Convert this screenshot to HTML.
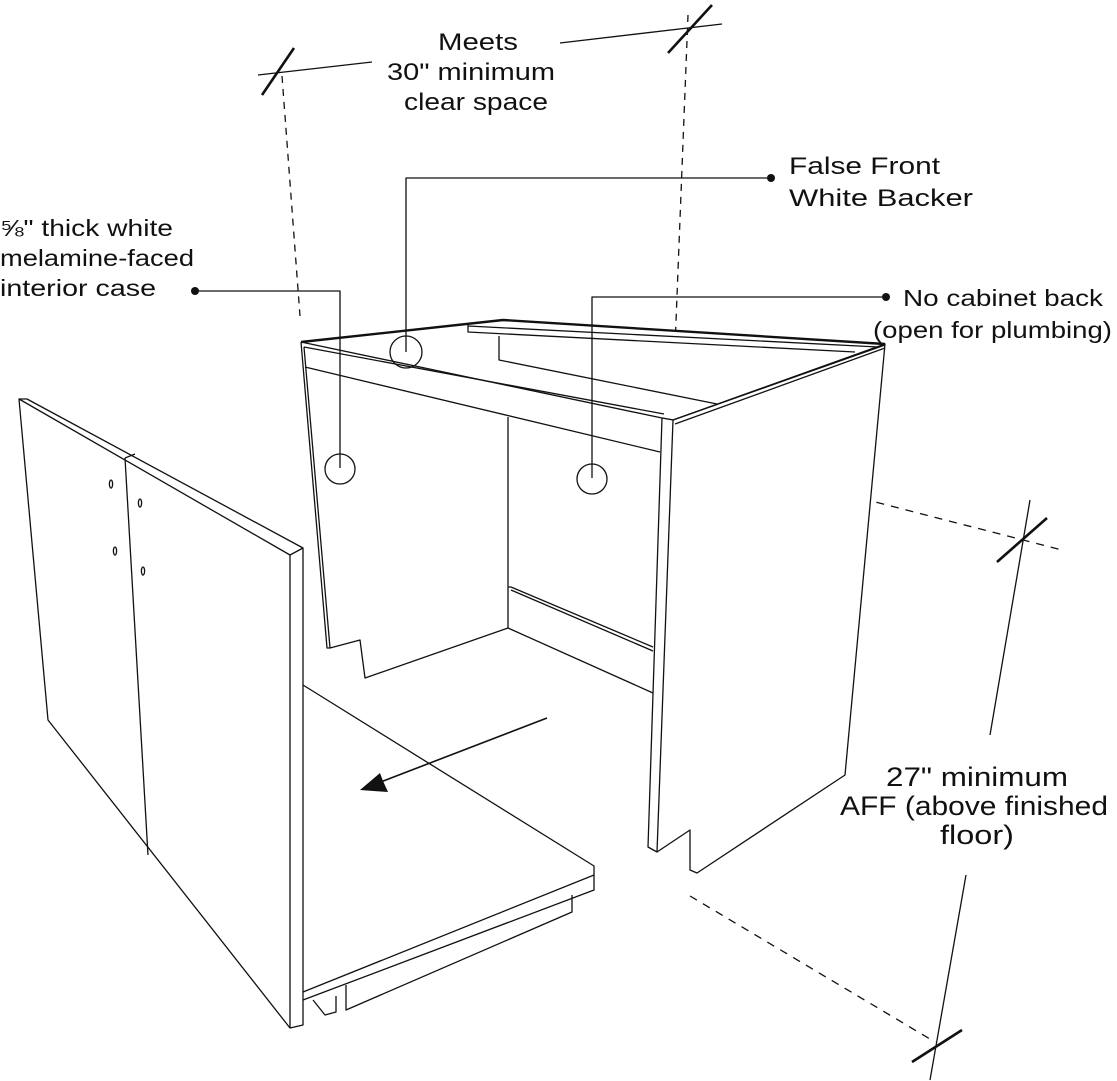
<!DOCTYPE html>
<html><head><meta charset="utf-8"><style>
html,body{margin:0;padding:0;background:#fff;}
svg{display:block;}
text{font-family:"Liberation Sans","DejaVu Sans",sans-serif;fill:#111;}
</style></head><body>
<svg width="1117" height="1081" viewBox="0 0 1117 1081" xmlns="http://www.w3.org/2000/svg">
<g fill="none" stroke="#111" stroke-width="1.3" stroke-linejoin="round">
<!-- dimension top -->
<line x1="258" y1="75" x2="372" y2="62"/>
<line x1="560" y1="43" x2="722" y2="24"/>
<line x1="262" y1="95" x2="294" y2="48" stroke-width="2.6"/>
<line x1="668" y1="53" x2="712" y2="5" stroke-width="2.6"/>
<line x1="282" y1="76" x2="300" y2="316" stroke-dasharray="7,6"/>
<line x1="688" y1="15" x2="673" y2="398" stroke-dasharray="7,6"/>
<!-- dimension right -->
<line x1="673" y1="450" x2="1062" y2="550" stroke-dasharray="8,7"/>
<line x1="690" y1="896" x2="935" y2="1042" stroke-dasharray="8,7"/>
<line x1="1030" y1="500" x2="990" y2="735"/>
<line x1="966" y1="875" x2="930" y2="1080"/>
<line x1="997" y1="562" x2="1047" y2="518" stroke-width="2.6"/>
<line x1="912" y1="1062" x2="962" y2="1030" stroke-width="2.6"/>

<!-- cabinet top -->
<path d="M301,342 L503,320 L885,344 L673,420 L662,418 Z" fill="#fff" stroke="none"/>
<path d="M301,342 L503,320 L885,344" stroke-width="2.4"/>
<path d="M301,342 L662,418 L673,420"/>
<path d="M304,347 L664,414"/>
<path d="M468,323 L468,332 L855,352 M468,326 L878,347"/>
<path d="M499,336 L499,360 L722,405"/>
<path d="M305,367 L660,452"/>
<!-- left side panel -->
<path d="M301,342 L327,648 L330,648 L304,347"/>
<path d="M330,648 L360,640 L365,678 L508,628"/>
<line x1="508" y1="417" x2="508" y2="628"/>
<line x1="508" y1="628" x2="653" y2="693"/>
<path d="M508,587 L511,587 L653,647 M511,590 L653,651"/>
<!-- right side panel -->
<path d="M662,418 L673,420 L885,344 L845,775 L697,873 L690,870 L690,830 L657,852 L648,847 Z" fill="#fff"/>
<path d="M673,420 L885,345 M675,424 L885,348"/>
<line x1="673" y1="420" x2="657" y2="852"/>
<!-- floor panel -->
<path d="M303,685 L594,866 L594,890 L303,1000" fill="#fff"/>
<path d="M303,992 L594,875"/>
<path d="M346,985 L346,1010 L572,912 L572,895"/>
<path d="M313,1000 L325,1015 L336,1012 L336,996"/>
<!-- doors -->
<path d="M19,399 L27,399 L303,548 L303,1025 L290,1028 L48,720 Z" fill="#fff"/>
<path d="M19,399 L290,555 L290,1028"/>
<line x1="290" y1="555" x2="303" y2="548"/>
<path d="M125,458 L135,454 M125,458 L148,855"/>
<ellipse cx="111" cy="484" rx="1.6" ry="4"/>
<ellipse cx="115" cy="551" rx="1.6" ry="4"/>
<ellipse cx="140" cy="503" rx="1.6" ry="4"/>
<ellipse cx="143" cy="571" rx="1.6" ry="4"/>
<!-- arrow -->
<line x1="547" y1="718" x2="378" y2="783" stroke-width="1.6"/>
<!-- callouts -->
<path d="M771,178 L406,178 L406,352"/>
<circle cx="406" cy="352" r="16"/>
<path d="M195,291 L340,291 L340,468"/>
<circle cx="340" cy="469" r="15"/>
<path d="M886,297 L592,297 L592,478"/>
<circle cx="592" cy="479" r="15"/>
</g>
<path d="M360,790 L380,773 L383,781 L388,792 Z" fill="#111"/>
<circle cx="771" cy="178" r="4" fill="#111"/>
<circle cx="195" cy="291" r="4" fill="#111"/>
<circle cx="886" cy="297" r="4" fill="#111"/>

<g font-size="24">
<text x="438" y="50" textLength="80" lengthAdjust="spacingAndGlyphs">Meets</text>
<text x="387" y="80" textLength="168" lengthAdjust="spacingAndGlyphs">30" minimum</text>
<text x="404" y="110" textLength="144" lengthAdjust="spacingAndGlyphs">clear space</text>
<text x="789" y="174" textLength="151" lengthAdjust="spacingAndGlyphs">False Front</text>
<text x="789" y="206" textLength="184" lengthAdjust="spacingAndGlyphs">White Backer</text>
</g>
<g font-size="23">
<text x="0" y="236" textLength="173" lengthAdjust="spacingAndGlyphs">⅝" thick white</text>
<text x="0" y="266" textLength="194" lengthAdjust="spacingAndGlyphs">melamine-faced</text>
<text x="0" y="296" textLength="156" lengthAdjust="spacingAndGlyphs">interior case</text>
<text x="903" y="306" textLength="200" lengthAdjust="spacingAndGlyphs">No cabinet back</text>
<text x="873" y="338" textLength="239" lengthAdjust="spacingAndGlyphs">(open for plumbing)</text>
</g>
<g font-size="27">
<text x="886" y="786" textLength="182" lengthAdjust="spacingAndGlyphs">27" minimum</text>
<text x="840" y="815" textLength="268" lengthAdjust="spacingAndGlyphs">AFF (above finished</text>
<text x="940" y="844" textLength="74" lengthAdjust="spacingAndGlyphs">floor)</text>
</g>
</svg>
</body></html>
